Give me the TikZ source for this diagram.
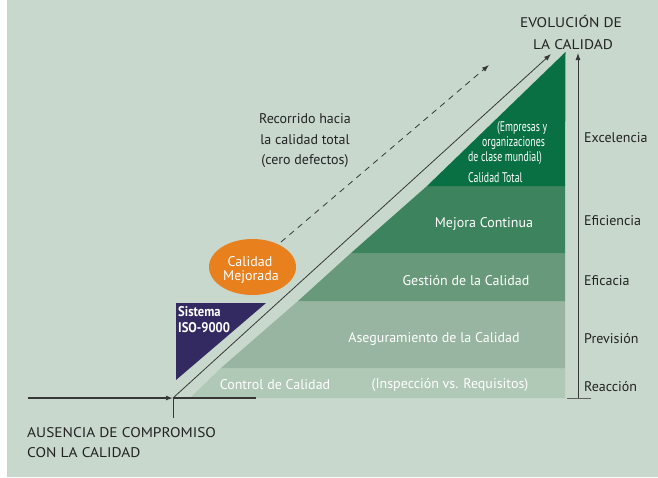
\documentclass[tikz,border=0pt]{standalone}
\usepackage{fontspec}
\setmainfont{PT Sans}
\newfontfamily\condfont[FakeStretch=0.7]{PT Sans}
\newfontfamily\isofont[FakeStretch=0.9]{PT Sans}
\newfontfamily\capsfont[FakeStretch=1.1]{PT Sans}
\usetikzlibrary{arrows.meta}
\definecolor{bgc}{RGB}{200,216,204}
\definecolor{bandA}{RGB}{176,200,182}
\definecolor{bandB}{RGB}{151,181,160}
\definecolor{bandC}{RGB}{105,153,123}
\definecolor{bandD}{RGB}{61,131,93}
\definecolor{bandE}{RGB}{9,112,67}
\definecolor{isoc}{RGB}{52,42,98}
\definecolor{orangec}{RGB}{232,128,30}
\definecolor{inkc}{RGB}{35,35,35}
\definecolor{linec}{RGB}{55,55,55}
\tikzset{
  lbl/.style={text=inkc, font=\fontsize{14}{16}\selectfont, inner sep=0pt},
  capslbl/.style={text=inkc, font=\capsfont\fontsize{14}{16}\selectfont, inner sep=0pt},
  wlbl/.style={text=white, font=\fontsize{14}{16}\selectfont, inner sep=0pt},
  smalllbl/.style={text=white, font=\condfont\fontsize{14}{16}\selectfont, inner sep=0pt},
  isolbl/.style={text=white, font=\isofont\bfseries\fontsize{14}{16}\selectfont, inner sep=0pt},
  thinline/.style={draw=linec, line width=0.8pt},
  tip/.style={-{Latex[length=7pt,width=5pt]}},
}
\begin{document}
\begin{tikzpicture}[x=1pt,y=-1pt]
\useasboundingbox (0,0) rectangle (658,477);
\fill[white] (0,0) rectangle (658,477);
\fill[bgc] (7,0) rectangle (658,477);

% bands of the quality triangle
\fill[bandA] (190,398) -- (565,398) -- (565,368) -- (221,368) -- cycle;
\fill[bandB] (221,368) -- (565,368) -- (565,301) -- (298,301) -- cycle;
\fill[bandC] (298,301) -- (565,301) -- (565,253) -- (351,253) -- cycle;
\fill[bandD] (351,253) -- (565,253) -- (565,186) -- (427,186) -- cycle;
\fill[bandE] (427,186) -- (565,186) -- (565.5,52) -- cycle;

% ISO-9000 triangle
\fill[isoc] (176,303) -- (266,303) -- (176,380) -- cycle;
\node[isolbl, anchor=base west] (sis) at (178,316) {Sistema};
\node[isolbl, anchor=base west] (iso) at (178,332) {ISO-9000};

% orange ellipse
\fill[orangec] (252.5,267) ellipse [x radius=43.5, y radius=28];
\node[wlbl, anchor=base] (cal1) at (250,266) {Calidad};
\node[wlbl, anchor=base] (cal2) at (251,280) {Mejorada};

% coordinates for connectors
\coordinate (orig) at (173,398);
\coordinate (lstart) at (28,398);
\coordinate (lend) at (256,398);
\coordinate (tickend) at (173,418);
\coordinate (diagtop) at (551,54);
\coordinate (dstart) at (281,242);
\coordinate (dend) at (489,65);
\coordinate (vbot) at (578,398);
\coordinate (vtop) at (578,53);
\coordinate (hbl) at (567,398.5);
\coordinate (hbr) at (591,398.5);

% axes and arrows
\draw[draw=linec, line width=1.3pt] (orig) -- (lend);
\draw[draw=linec, line width=1.3pt, tip] (lstart) -- (orig);
\draw[thinline] (orig) -- (tickend);
\draw[thinline, tip] (orig) -- (diagtop);
\draw[thinline, tip, dash pattern=on 6pt off 5pt] (dstart) -- (dend);
\draw[thinline, tip] (vbot) -- (vtop);
\draw[draw=linec!80, line width=1.6pt] (hbl) -- (hbr);

% band labels
\node[wlbl, anchor=base] (ctrl) at (275,389) {Control de Calidad};
\node[wlbl, anchor=base] (insp) at (450,388) {(Inspección vs. Requisitos)};
\node[wlbl, anchor=base] (aseg) at (434,342) {Aseguramiento de la Calidad};
\node[wlbl, anchor=base] (gest) at (466,285) {Gestión de la Calidad};
\node[wlbl, anchor=base] (mejc) at (484,227) {Mejora Continua};
\node[smalllbl, anchor=base west] (emp1) at (497,131) {(Empresas y};
\node[smalllbl, anchor=base west] (emp2) at (482,146) {organizaciones};
\node[smalllbl, anchor=base west] (emp3) at (468,161) {de clase mundial)};
\node[smalllbl, anchor=base west] (ctot) at (468,182) {Calidad Total};

% right labels
\node[lbl, anchor=base west] (exc) at (584,142) {Excelencia};
\node[lbl, anchor=base west] (efi) at (584,225) {Eficiencia};
\node[lbl, anchor=base west] (efa) at (584,285) {Eficacia};
\node[lbl, anchor=base west] (pre) at (584,343) {Previsión};
\node[lbl, anchor=base west] (rea) at (584,391) {Reacción};

% titles
\node[capslbl, anchor=base] (evo1) at (571,27) {EVOLUCIÓN DE};
\node[capslbl, anchor=base] (evo2) at (573,49) {LA CALIDAD};
\node[lbl, anchor=base] (rec1) at (305,123) {Recorrido hacia};
\node[lbl, anchor=base] (rec2) at (305,144) {la calidad total};
\node[lbl, anchor=base] (rec3) at (305,164) {(cero defectos)};
\node[capslbl, anchor=base west] (aus1) at (27,437) {AUSENCIA DE COMPROMISO};
\node[capslbl, anchor=base west] (aus2) at (27,457) {CON LA CALIDAD};
\end{tikzpicture}
\end{document}
